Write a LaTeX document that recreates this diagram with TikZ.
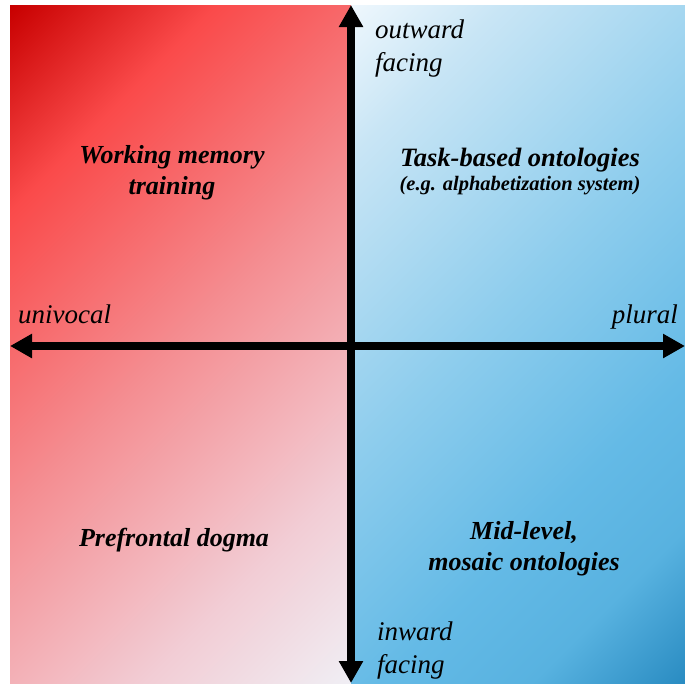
\documentclass[tikz,border=0pt]{standalone}
\usepackage{fontspec}
\setmainfont{Liberation Serif}
\usepackage{tikz}
\usetikzlibrary{arrows.meta,positioning}
\definecolor{redcorner}{HTML}{C80000}
\definecolor{redhot}   {HTML}{FA4A4A}
\definecolor{redmid}   {HTML}{F48E92}
\definecolor{redpale}  {HTML}{F2CDD5}
\definecolor{redwhite} {HTML}{F0EEF4}
\definecolor{bluewhite}{HTML}{EEF7FD}
\definecolor{bluepale} {HTML}{C8E5F5}
\definecolor{bluemid}  {HTML}{8ECDED}
\definecolor{bluesky}  {HTML}{64BAE6}
\definecolor{bluedeep} {HTML}{58B2E0}
\definecolor{bluecorner}{HTML}{2A8CC2}
% corner-to-corner fades (the 14.64bp..85.36bp part lands on the box)
\pgfdeclarehorizontalshading{redfade}{100bp}{%
  color(0bp)=(redcorner); color(14.64bp)=(redcorner); color(28.78bp)=(redhot);
  color(50bp)=(redmid); color(71.2bp)=(redpale); color(85.36bp)=(redwhite);
  color(100bp)=(redwhite)}
\pgfdeclarehorizontalshading{bluefade}{100bp}{%
  color(0bp)=(bluewhite); color(14.64bp)=(bluewhite); color(25.25bp)=(bluepale);
  color(46.46bp)=(bluemid); color(64.14bp)=(bluesky); color(74.75bp)=(bluedeep);
  color(85.36bp)=(bluecorner); color(100bp)=(bluecorner)}
\tikzset{
  % --- panels and axes
  redpanel/.style  = {shading=redfade, shading angle=-45},
  bluepanel/.style = {shading=bluefade, shading angle=-45},
  axis/.style      = {line width=7.5pt, draw=black,
                      {Triangle[width=23pt,length=22pt]}-{Triangle[width=23pt,length=22pt]}},
  % --- labels (base = baseline of the last line)
  quad/.style   = {inner sep=0pt, align=center, anchor=base,
                   font=\fontsize{26}{31}\selectfont\bfseries\itshape},
  axlbl/.style  = {inner sep=0pt, align=left, anchor=base west,
                   font=\fontsize{27}{33}\selectfont\itshape},
}
\begin{document}
\begin{tikzpicture}[x=1pt,y=-1pt]
  \useasboundingbox (0,0) rectangle (685,683);
  \shade[redpanel]  (10,5) rectangle (351,683);
  \shade[bluepanel] (351,5) rectangle (685,683);

  \coordinate (west)  at (10,346);
  \coordinate (east)  at (685,346);
  \coordinate (north) at (351,5);
  \coordinate (south) at (351,683);
  \draw[axis] (west) -- (east);
  \draw[axis] (south) -- (north);

  \node[axlbl] (outward) at (375,71)  {outward\\facing};
  \node[axlbl] (inward)  at (377,673) {inward\\facing};
  \node[axlbl] (univocal) at (18,323) {univocal};
  \node[axlbl, anchor=base east] (plural) at (678,323) {plural};

  \node[quad] (wmt)  at (172,194) {Working memory\\training};
  \node[quad] (task) at (520,190) {{\fontsize{26.5}{31}\selectfont Task-based ontologies}\\[-7pt]
        {\fontsize{20.5}{24}\selectfont(e.g. alphabetization system)}};
  \node[quad] (pfd)  at (174,546) {Prefrontal dogma};
  \node[quad] (mosaic) at (524,570) {Mid-level,\\mosaic ontologies};
\end{tikzpicture}
\end{document}
